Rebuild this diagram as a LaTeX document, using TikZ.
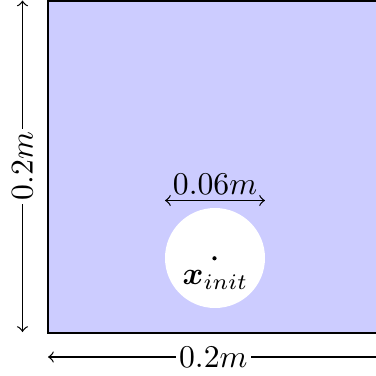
\documentclass[tikz,border=0pt]{standalone}
\usepackage{bm}
\begin{document}
\begin{tikzpicture}[x=0.3155pt,y=-0.3155pt,
  dim/.style={<->,line width=0.4pt},
  dimlabel/.style={fill=white,inner sep=1pt},
  box/.style={fill=blue!20,draw=black,line width=0.5pt}]
\useasboundingbox (0,0) rectangle (376,376);
\draw[box] (48,0.8) rectangle (390,333);
\fill[white] (215,258) circle (50);
\fill (214.5,258.3) circle (2.1);
\node[anchor=north,inner sep=1pt] (xi) at (215.5,267) {$\bm{x}_{init}$};
\coordinate (ta) at (165,200.5);
\coordinate (tb) at (265,200.5);
\draw[dim] (ta) -- (tb);
\node[anchor=south,inner sep=2pt] (dl) at (215,201) {$0.06m$};
\coordinate (la) at (22.5,0.5);
\coordinate (lb) at (22.5,332);
\draw[dim] (la) -- node[dimlabel,rotate=90] (ll) {$0.2m$} (lb);
\coordinate (ba) at (48,357);
\coordinate (bb) at (396,357);
\draw[dim] (ba) -- node[dimlabel,pos=0.475] (bl) {$0.2m$} (bb);
\end{tikzpicture}
\end{document}
